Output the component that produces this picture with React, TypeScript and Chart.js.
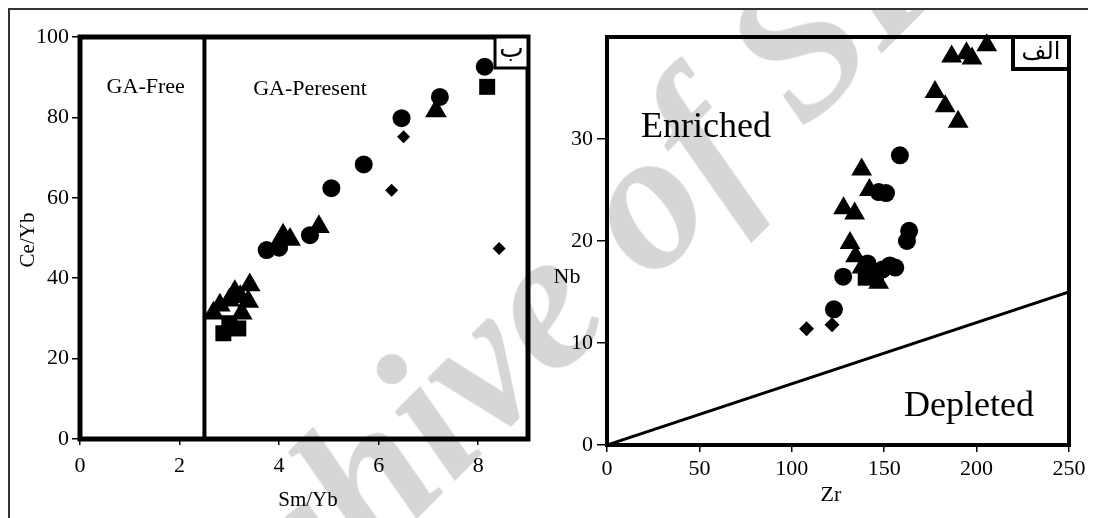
import React, { useEffect, useRef } from "react";
import { Chart, registerables } from "chart.js";

Chart.register(...registerables);

const SERIF = "'Liberation Serif', 'Times New Roman', serif";
const ARABIC = "'DejaVu Sans', 'Noto Sans', sans-serif";

// ---------- Left panel: Sm/Yb vs Ce/Yb ----------
const leftXTicks = [0, 2, 4, 6, 8];
const leftYTicks = [0, 20, 40, 60, 80, 100];
const leftXRange = [0, 9];
const leftYRange = [0, 100];
const leftDivider = 2.5;
const leftCircles = [
  [8.13, 92.6], [7.23, 85.1], [6.46, 79.8], [5.7, 68.3], [5.05, 62.4],
  [4.62, 50.7], [4.0, 47.6], [3.75, 47.0],
];
const leftTriangles = [
  [7.15, 81.6], [4.08, 50.7], [4.22, 49.6], [4.8, 52.8], [3.41, 38.3],
  [3.11, 36.6], [3.38, 34.2], [3.22, 35.4], [2.81, 33.3], [2.68, 31.3],
  [3.25, 31.3], [3.0, 34.5],
];
const leftSquares = [[8.18, 87.6], [2.88, 26.3], [3.18, 27.5], [3.0, 28.8]];
const leftDiamonds = [[6.5, 75.2], [6.26, 61.9], [8.42, 47.4]];

// ---------- Right panel: Zr vs Nb ----------
const rightXTicks = [0, 50, 100, 150, 200, 250];
const rightYTicks = [0, 10, 20, 30];
const rightXRange = [0, 250];
const rightYRange = [0, 40];
const rightLineZr = [0, 250];
const rightLineNb = [0, 15];
const rightCircles = [
  [158.5, 28.4], [147, 24.8], [151, 24.7], [162.3, 20.0], [163.5, 21.0],
  [127.8, 16.5], [122.8, 13.3], [141, 17.8], [149, 17.2], [153, 17.6], [156, 17.4],
];
const rightTriangles = [
  [205.5, 39.2], [186.5, 38.1], [194.5, 38.4], [197.5, 37.9], [177.5, 34.6],
  [183, 33.2], [190, 31.7], [137.8, 27.0], [142, 25.0], [128, 23.2],
  [134, 22.7], [131.5, 19.8], [134.5, 18.5], [138, 17.4], [147, 15.9],
];
const rightSquares = [[140, 16.4], [145.5, 16.7]];
const rightDiamonds = [[108, 11.4], [121.8, 11.8]];

const pts = (arr: number[][]) => arr.map(([x, y]) => ({ x, y }));

function marker(style: string, radius: number, arr: number[][]) {
  return {
    data: pts(arr),
    pointStyle: style,
    pointRadius: radius,
    pointHoverRadius: radius,
    pointBackgroundColor: "#000",
    pointBorderColor: "#000",
    pointBorderWidth: 0,
    showLine: false,
    clip: false as any,
  };
}

function axis(
  range: number[],
  ticks: number[],
  size: number,
  tickLength: number,
  padding: number,
  isX: boolean
) {
  return {
    type: "linear" as const,
    min: range[0],
    max: range[1],
    afterBuildTicks: (s: any) => {
      s.ticks = ticks.map((v) => ({ value: v }));
    },
    afterFit: (s: any) => {
      if (isX) s.height = size;
      else s.width = size;
    },
    grid: { drawOnChartArea: false, drawTicks: true, tickLength, color: "#000", lineWidth: 1.5 },
    border: { display: false },
    ticks: {
      color: "#000",
      font: { family: SERIF, size: 22 },
      padding,
      maxRotation: 0,
      autoSkip: false,
      callback: (v: any) => String(v),
    },
  };
}

const leftDecor = {
  id: "leftDecor",
  afterDatasetsDraw(chart: any) {
    const { ctx, chartArea: a, scales } = chart;
    ctx.save();
    ctx.strokeStyle = "#000";
    // divider GA-Free / GA-Present
    const dx = scales.x.getPixelForValue(leftDivider);
    ctx.lineWidth = 4;
    ctx.beginPath();
    ctx.moveTo(dx, a.top);
    ctx.lineTo(dx, a.bottom);
    ctx.stroke();
    // frame
    ctx.lineWidth = 5;
    ctx.strokeRect(a.left, a.top, a.right - a.left, a.bottom - a.top);
    // panel tag box
    const bw = 33, bh = 31;
    ctx.fillStyle = "#fff";
    ctx.fillRect(a.right - bw, a.top, bw, bh);
    ctx.lineWidth = 3;
    ctx.strokeRect(a.right - bw, a.top, bw, bh);
    ctx.fillStyle = "#000";
    ctx.font = `26px ${ARABIC}`;
    ctx.textAlign = "center";
    ctx.textBaseline = "middle";
    ctx.fillText("ب", a.right - bw / 2, a.top + bh / 2 - 2);
    // region labels
    ctx.font = `22px ${SERIF}`;
    ctx.fillText("GA-Free", scales.x.getPixelForValue(1.32), scales.y.getPixelForValue(87.6));
    ctx.fillText("GA-Peresent", scales.x.getPixelForValue(4.62), scales.y.getPixelForValue(86.9));
    // axis titles
    ctx.font = `21px ${SERIF}`;
    ctx.fillText("Sm/Yb", 298, 490);
    ctx.save();
    ctx.translate(18, 230);
    ctx.rotate(-Math.PI / 2);
    ctx.fillText("Ce/Yb", 0, 0);
    ctx.restore();
    ctx.restore();
  },
};

const rightDecor = {
  id: "rightDecor",
  afterDatasetsDraw(chart: any) {
    const { ctx, chartArea: a, scales } = chart;
    ctx.save();
    ctx.strokeStyle = "#000";
    ctx.lineWidth = 4;
    ctx.strokeRect(a.left, a.top, a.right - a.left, a.bottom - a.top);
    const bw = 56, bh = 32;
    ctx.fillStyle = "#fff";
    ctx.fillRect(a.right - bw, a.top, bw, bh);
    ctx.lineWidth = 4;
    ctx.strokeRect(a.right - bw, a.top, bw, bh);
    ctx.fillStyle = "#000";
    ctx.font = `24px ${ARABIC}`;
    ctx.textAlign = "center";
    ctx.textBaseline = "middle";
    ctx.fillText("الف", a.right - bw / 2, a.top + bh / 2);
    // region labels
    ctx.textAlign = "left";
    ctx.textBaseline = "alphabetic";
    ctx.font = `36px ${SERIF}`;
    ctx.fillText("Enriched", scales.x.getPixelForValue(18.4), scales.y.getPixelForValue(30.2));
    ctx.fillText("Depleted", scales.x.getPixelForValue(160.7), scales.y.getPixelForValue(2.8));
    // axis titles
    ctx.textAlign = "center";
    ctx.textBaseline = "middle";
    ctx.font = `22px ${SERIF}`;
    ctx.fillText("Nb", 27, 267);
    ctx.fillText("Zr", 291, 485);
    ctx.restore();
  },
};

function makeLeft(canvas: HTMLCanvasElement) {
  return new Chart(canvas, {
    type: "scatter",
    data: {
      datasets: [
        marker("circle", 9, leftCircles),
        marker("triangle", 12.5, leftTriangles),
        marker("rect", 11.3, leftSquares),
        marker("rectRot", 6.5, leftDiamonds),
      ] as any,
    },
    options: {
      animation: false,
      responsive: false,
      maintainAspectRatio: false,
      events: [],
      layout: { padding: { top: 27, right: 22, left: 0, bottom: 0 } },
      plugins: { legend: { display: false }, tooltip: { enabled: false } },
      scales: {
        x: axis(leftXRange, leftXTicks, 76, 6, 8, true),
        y: axis(leftYRange, leftYTicks, 70, 8, 3, false),
      } as any,
    },
    plugins: [leftDecor],
  });
}

function makeRight(canvas: HTMLCanvasElement) {
  return new Chart(canvas, {
    type: "scatter",
    data: {
      datasets: [
        {
          data: rightLineZr.map((x, i) => ({ x, y: rightLineNb[i] })),
          showLine: true,
          borderColor: "#000",
          borderWidth: 3,
          pointRadius: 0,
          fill: false,
        },
        marker("circle", 9, rightCircles),
        marker("triangle", 12, rightTriangles),
        marker("rect", 11.3, rightSquares),
        marker("rectRot", 7.5, rightDiamonds),
      ] as any,
    },
    options: {
      animation: false,
      responsive: false,
      maintainAspectRatio: false,
      events: [],
      layout: { padding: { top: 27, right: 27, left: 0, bottom: 0 } },
      plugins: { legend: { display: false }, tooltip: { enabled: false } },
      scales: {
        x: axis(rightXRange, rightXTicks, 70, 7, 4, true),
        y: axis(rightYRange, rightYTicks, 67, 10, 4, false),
      } as any,
    },
    plugins: [rightDecor],
  });
}

export default function App() {
  const leftRef = useRef<HTMLCanvasElement>(null);
  const rightRef = useRef<HTMLCanvasElement>(null);

  useEffect(() => {
    const l = makeLeft(leftRef.current!);
    const r = makeRight(rightRef.current!);
    return () => {
      l.destroy();
      r.destroy();
    };
  }, []);

  return (
    <div
      style={{
        position: "relative",
        width: 1088,
        height: 510,
        boxSizing: "border-box",
        borderTop: "2px solid #333",
        borderLeft: "2px solid #333",
        background: "#fff",
        overflow: "hidden",
        isolation: "isolate",
      }}
    >
      <style>{"html,body{overflow:hidden}"}</style>
      <canvas
        ref={leftRef}
        width={540}
        height={505}
        style={{ position: "absolute", left: 0, top: 0, width: 540, height: 505 }}
      />
      <canvas
        ref={rightRef}
        width={556}
        height={505}
        style={{ position: "absolute", left: 530, top: 0, width: 556, height: 505 }}
      />
      <div
        style={{
          position: "absolute",
          left: 150,
          top: 765,
          width: 0,
          height: 0,
          transform: "rotate(-45deg)",
          transformOrigin: "0 0",
          pointerEvents: "none",
          mixBlendMode: "multiply",
        }}
      >
        <span
          style={{
            position: "absolute",
            left: 0,
            top: -167,
            whiteSpace: "nowrap",
            fontFamily: SERIF,
            fontStyle: "italic",
            fontWeight: "bold",
            fontSize: 200,
            lineHeight: "200px",
            color: "#d6d6d6",
          }}
        >
          Archive of SID
        </span>
      </div>
    </div>
  );
}
